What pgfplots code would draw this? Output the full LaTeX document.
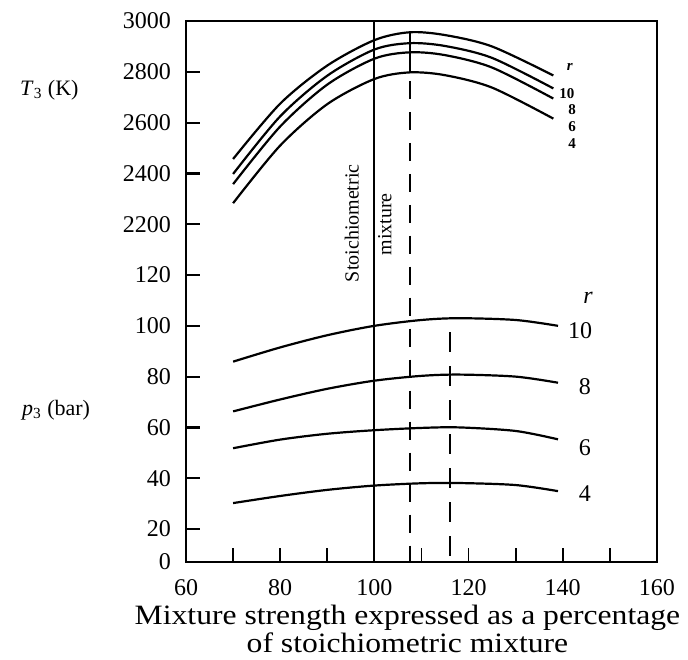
\documentclass[border=0pt]{standalone}
\usepackage{fontspec}
\setmainfont{Liberation Serif}
\newfontfamily\wideserif[FakeStretch=1.13]{Liberation Serif}
\usepackage{pgfplots}
\pgfplotsset{compat=1.18}

% temperature curves are drawn on the same axis as the pressures:
% 2200 K sits one step above 120 bar, 200 K per step of 20
\pgfplotsset{
  temp/.style={y filter/.expression={140+(y-2200)/10}},
  curve/.style={black, line width=1.1pt, smooth, no marks},
  ymark/.style={black, line width=1.1pt, no marks},
}

\begin{document}
\begin{tikzpicture}
\begin{axis}[
  width=235.5pt, height=270.5pt, scale only axis,
  xmin=60, xmax=160, ymin=7, ymax=220,
  xtick={60,80,...,160}, minor xtick={70,90,...,150},
  ytick={7,20,40,60,80,100,120,140,160,180,200,220},
  yticklabels={0,20,40,60,80,100,120,2200,2400,2600,2800,3000},
  xtick pos=bottom, ytick pos=left, tick align=inside,
  major tick length=7pt, minor tick length=7pt,
  axis line style={line width=1.2pt},
  every tick/.style={draw=black, line width=0.9pt},
  every minor tick/.style={draw=black, line width=0.9pt},
  /pgf/number format/assume math mode=true,
  ticklabel style={font=\fontsize{12}{12}\selectfont},
  yticklabel shift=4pt,
  xticklabel shift=5pt,
  xlabel={Mixture strength expressed as a percentage\\of stoichiometric mixture},
  xlabel style={align=center, font=\wideserif\fontsize{14}{12}\selectfont, yshift=2pt, xshift=-7pt},
  clip=false,
]
% T3 (K), r = 10, 8, 6, 4
\addplot[curve, temp] coordinates {(70,2457) (80,2675) (90,2825) (100,2925) (107.5,2956) (115,2945) (125,2900) (138,2786)};
\addplot[curve, temp] coordinates {(70,2398) (80,2625) (90,2785) (100,2888) (107.5,2913) (115,2902) (125,2855) (138,2735)};
\addplot[curve, temp] coordinates {(70,2358) (80,2585) (90,2750) (100,2852) (107.5,2877) (115,2866) (125,2817) (138,2695)};
\addplot[curve, temp] coordinates {(70,2283) (80,2510) (90,2673) (100,2772) (107.5,2798) (115,2787) (125,2738) (138,2616)};

% p3 (bar), r = 10, 8, 6, 4
\addplot[curve] coordinates {(70,85.9) (80,91.5) (90,96.3) (100,100) (110,102.3) (118,103) (130,102.3) (139,100)};
\addplot[curve] coordinates {(70,66.3) (80,71) (90,75.2) (100,78.4) (110,80.3) (118,80.8) (130,80) (139,77.6)};
\addplot[curve] coordinates {(70,51.8) (80,55.2) (90,57.5) (100,58.9) (110,59.8) (118,60) (130,58.6) (139,55.3)};
\addplot[curve] coordinates {(70,30.2) (80,33) (90,35.4) (100,37.1) (110,38) (118,38.1) (130,37.3) (139,34.9)};

% stoichiometric line and the two maxima
\addplot[black, line width=1pt] coordinates {(100,7) (100,220)};
\addplot[black, line width=1pt] coordinates {(107.5,215.6) (107.5,199.8)};
\addplot[black, line width=1pt, dash pattern=on 9pt off 6.5pt] coordinates {(107.5,196.5) (107.5,7)};
\addplot[black, line width=1.2pt, dash pattern=on 10pt off 7pt] coordinates {(116,97.5) (116,7)};

% left tick marks, drawn last as short segments
\addplot[ymark] coordinates {(60,20) (63,20)};
\addplot[ymark] coordinates {(60,40) (63,40)};
\addplot[ymark] coordinates {(60,60) (63,60)};
\addplot[ymark] coordinates {(60,80) (63,80)};
\addplot[ymark] coordinates {(60,100) (63,100)};
\addplot[ymark] coordinates {(60,120) (63,120)};
\addplot[ymark] coordinates {(60,140) (63,140)};
\addplot[ymark] coordinates {(60,160) (63,160)};
\addplot[ymark] coordinates {(60,180) (63,180)};
\addplot[ymark] coordinates {(60,200) (63,200)};

\node[rotate=90, font=\fontsize{10}{10}\selectfont] at (axis cs:95.2,140.4) {Stoichiometric};
\node[rotate=90, font=\fontsize{10}{10}\selectfont] at (axis cs:102.2,140) {mixture};

% r labels
\begin{scope}[font=\fontsize{7.5}{7.5}\selectfont\bfseries]
\node at (axis cs:141.5,202) {\textit{r}};
\node at (axis cs:140.9,191.4) {10};
\node at (axis cs:142,185) {8};
\node at (axis cs:142,178.4) {6};
\node at (axis cs:142,171.8) {4};
\end{scope}
\begin{scope}[font=\fontsize{12}{12}\selectfont]
\node at (axis cs:145.4,111) {\textit{r}};
\node at (axis cs:143.7,98) {10};
\node at (axis cs:144.7,76) {8};
\node at (axis cs:144.7,52) {6};
\node at (axis cs:144.7,34) {4};
\end{scope}

\node[anchor=west, font=\fontsize{11}{11}\selectfont] at (axis description cs:-0.367,0.872) {\textit{T}\textsubscript{3} (K)};
\node[anchor=west, font=\fontsize{11}{11}\selectfont] at (axis description cs:-0.363,0.281) {\textit{p}\textsubscript{3} (bar)};

% page margins of the reference
\path (axis description cs:-0.395,-0.166) rectangle (axis description cs:1.066,1.039);
\end{axis}
\end{tikzpicture}
\end{document}
